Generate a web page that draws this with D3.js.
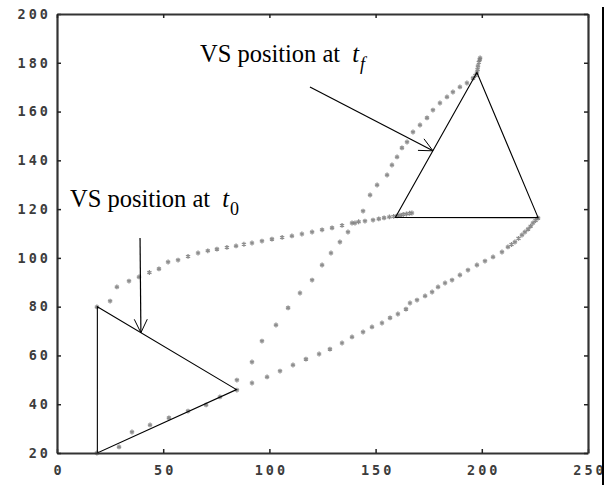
<!DOCTYPE html>
<html>
<head>
<meta charset="utf-8">
<script src="https://cdn.jsdelivr.net/npm/d3@7"></script>
<style>
  body { margin: 0; background: #fff; }
  svg { display: block; }
</style>
</head>
<body>
<svg id="chart" width="608" height="485"></svg>
<script>
// axis setup
const xTicks = [0, 50, 100, 150, 200, 250];
const yTicks = [20, 40, 60, 80, 100, 120, 140, 160, 180, 200];

// trajectory of vertex 1 (t0 top -> tf left)
const pathA = [
  [18.8, 79.9], [25.0, 82.3], [28.2, 88.1], [33.9, 90.5], [38.6, 92.2], [43.5, 94.0],
  [48.0, 95.5], [52.3, 98.3], [57.0, 99.1], [61.7, 100.6], [66.4, 102.0], [71.0, 102.9],
  [75.3, 103.6], [80.0, 104.3], [84.3, 104.9], [88.0, 105.6], [91.8, 106.1], [96.5, 106.9],
  [101.2, 107.7], [106.0, 108.4], [110.6, 109.0], [115.3, 109.8], [120.1, 110.6], [124.8, 111.5],
  [129.5, 112.3], [134.2, 113.3], [138.9, 114.3], [142.0, 114.8], [145.0, 115.1], [148.8, 115.5],
  [151.5, 116.0], [154.0, 116.4], [156.5, 116.8], [158.5, 117.0], [160.1, 117.2], [161.5, 117.5],
  [163.0, 117.8], [164.5, 118.0], [166.0, 118.3], [167.1, 118.4]
];

// trajectory of vertex 2 (t0 right -> tf top)
const pathB = [
  [84.7, 49.9], [91.8, 57.3], [96.5, 65.9], [103.1, 72.5], [108.8, 79.5], [114.4, 85.6],
  [120.1, 90.9], [124.8, 97.1], [129.0, 102.0], [133.2, 106.5], [137.0, 110.6], [140.3, 114.3],
  [144.1, 119.2], [147.4, 125.8], [150.7, 129.9], [155.4, 134.0], [157.7, 138.1], [160.1, 141.4],
  [162.4, 145.1], [164.8, 147.5], [167.6, 151.6], [170.9, 154.5], [174.2, 157.4], [177.0, 160.6],
  [180.3, 163.5], [183.6, 166.0], [186.4, 168.0], [189.7, 170.1], [193.0, 171.7], [195.9, 173.7],
  [197.0, 174.8], [197.7, 175.8], [198.0, 177.2], [198.2, 178.7], [198.6, 180.2], [199.0, 181.2],
  [199.2, 182.0]
];

// trajectory of vertex 3 (t0 bottom -> tf right)
const pathC = [
  [18.8, 20.0], [29.2, 22.5], [35.3, 28.6], [43.8, 31.5], [52.7, 34.4], [61.7, 37.2],
  [70.2, 39.7], [76.7, 43.0], [84.7, 45.8], [91.8, 48.7], [98.9, 51.2], [105.0, 53.6],
  [111.1, 56.1], [117.2, 58.5], [123.4, 60.6], [128.5, 62.6], [134.2, 65.1], [138.9, 67.6],
  [144.1, 69.6], [148.3, 71.7], [153.0, 73.3], [156.8, 75.4], [160.5, 77.0], [164.3, 79.0],
  [166.2, 81.5], [169.5, 82.7], [173.3, 84.4], [176.6, 86.0], [179.4, 88.1], [182.7, 89.7],
  [186.0, 90.9], [189.7, 93.0], [193.5, 95.0], [197.7, 97.1], [201.5, 98.7], [205.3, 100.4],
  [209.5, 102.4], [212.3, 104.5], [214.0, 105.5], [215.6, 106.5], [217.3, 108.0], [218.9, 109.4],
  [220.3, 110.6], [221.8, 111.8], [223.0, 113.0], [224.1, 114.3], [225.3, 115.3], [226.5, 116.3]
];

// robot (VS) triangles
const triStart = [[19.0, 80.0], [19.0, 20.0], [84.5, 46.0]];
const triEnd = [[159.3, 116.6], [226.5, 116.5], [197.7, 176.0]];

// annotation arrows [from, to]
const arrowStart = [[39.1, 108.2], [39.5, 69.3]];
const arrowEnd = [[119.1, 170.1], [177.0, 143.9]];

const labelStart = { text: "VS position at ", sym: "t", sub: "0", at: [6.1, 121.0] };
const labelEnd = { text: "VS position at ", sym: "t", sub: "f", at: [67.3, 180.3] };

const svg = d3.select("#chart");

const x = d3.scaleLinear().domain([0, 250]).range([57, 588]);
const y = d3.scaleLinear().domain([20, 200]).range([453, 14]);

// trajectories
const marker = d3.symbol().type(d3.symbolAsterisk).size(16);
[pathA, pathB, pathC].forEach(pts => {
  svg.append("g")
    .selectAll("path")
    .data(pts)
    .enter()
    .append("path")
    .attr("transform", d => "translate(" + x(d[0]) + "," + y(d[1]) + ")")
    .attr("d", marker)
    .attr("fill", "none")
    .attr("stroke", "#7a7a7a")
    .attr("stroke-width", 1.3)
    .attr("opacity", 0.85);
});

// triangles
const line = d3.line().x(d => x(d[0])).y(d => y(d[1]));
[triStart, triEnd].forEach(t => {
  svg.append("path")
    .attr("d", line(t) + "Z")
    .attr("fill", "none")
    .attr("stroke", "#000")
    .attr("stroke-width", 1.1);
});

// arrows with open heads
function drawArrow(a, b) {
  const x1 = x(a[0]), y1 = y(a[1]), x2 = x(b[0]), y2 = y(b[1]);
  const ang = Math.atan2(y2 - y1, x2 - x1);
  const len = 15, spread = Math.PI / 7;
  svg.append("line")
    .attr("x1", x1).attr("y1", y1).attr("x2", x2).attr("y2", y2)
    .attr("stroke", "#000").attr("stroke-width", 1.2);
  [-spread, spread].forEach(s => {
    svg.append("line")
      .attr("x1", x2).attr("y1", y2)
      .attr("x2", x2 - len * Math.cos(ang + s))
      .attr("y2", y2 - len * Math.sin(ang + s))
      .attr("stroke", "#000").attr("stroke-width", 1);
  });
}
drawArrow(arrowStart[0], arrowStart[1]);
drawArrow(arrowEnd[0], arrowEnd[1]);

// labels
[labelStart, labelEnd].forEach(l => {
  const t = svg.append("text")
    .attr("x", x(l.at[0]))
    .attr("y", y(l.at[1]))
    .attr("font-family", "'Liberation Serif', 'Times New Roman', serif")
    .attr("font-size", 24.5)
    .attr("fill", "#000");
  t.append("tspan").text(l.text);
  t.append("tspan").attr("dx", 6).attr("font-style", "italic").text(l.sym);
  t.append("tspan")
    .attr("font-size", 18)
    .attr("dx", 1)
    .attr("dy", 8)
    .attr("font-style", l.sub === "f" ? "italic" : "normal")
    .text(l.sub);
});

// axes box
const tickFont = g => g.selectAll("text")
  .attr("font-family", "'DejaVu Sans Mono', monospace")
  .attr("font-weight", "bold")
  .attr("font-size", 13.5)
  .attr("letter-spacing", "3px")
  .attr("fill", "#3c3c3c");

svg.append("g")
  .attr("transform", "translate(0," + y(20) + ")")
  .call(d3.axisBottom(x).tickValues(xTicks).tickSizeInner(-4).tickSizeOuter(0).tickPadding(12).tickFormat(d3.format("d")))
  .call(tickFont)
  .call(g => g.selectAll("text").attr("dx", "1.5px"));
svg.append("g")
  .attr("transform", "translate(" + x(0) + ",0)")
  .call(d3.axisLeft(y).tickValues(yTicks).tickSizeInner(-4).tickSizeOuter(0).tickPadding(6).tickFormat(d3.format("d")))
  .call(tickFont);
svg.append("g")
  .attr("transform", "translate(0," + y(200) + ")")
  .call(d3.axisTop(x).tickValues(xTicks).tickSizeInner(-4).tickSizeOuter(0).tickFormat(""));
svg.append("g")
  .attr("transform", "translate(" + x(250) + ",0)")
  .call(d3.axisRight(y).tickValues(yTicks).tickSizeInner(-4).tickSizeOuter(0).tickFormat(""));

svg.selectAll(".domain").attr("stroke", "#333").attr("stroke-width", 2.2);
svg.selectAll(".tick line").attr("stroke", "#222").attr("stroke-width", 1.5);

// vertical rule at right edge of the figure
svg.append("line")
  .attr("x1", 603).attr("x2", 603).attr("y1", 7).attr("y2", 485)
  .attr("stroke", "#000").attr("stroke-width", 2);
</script>
</body>
</html>
